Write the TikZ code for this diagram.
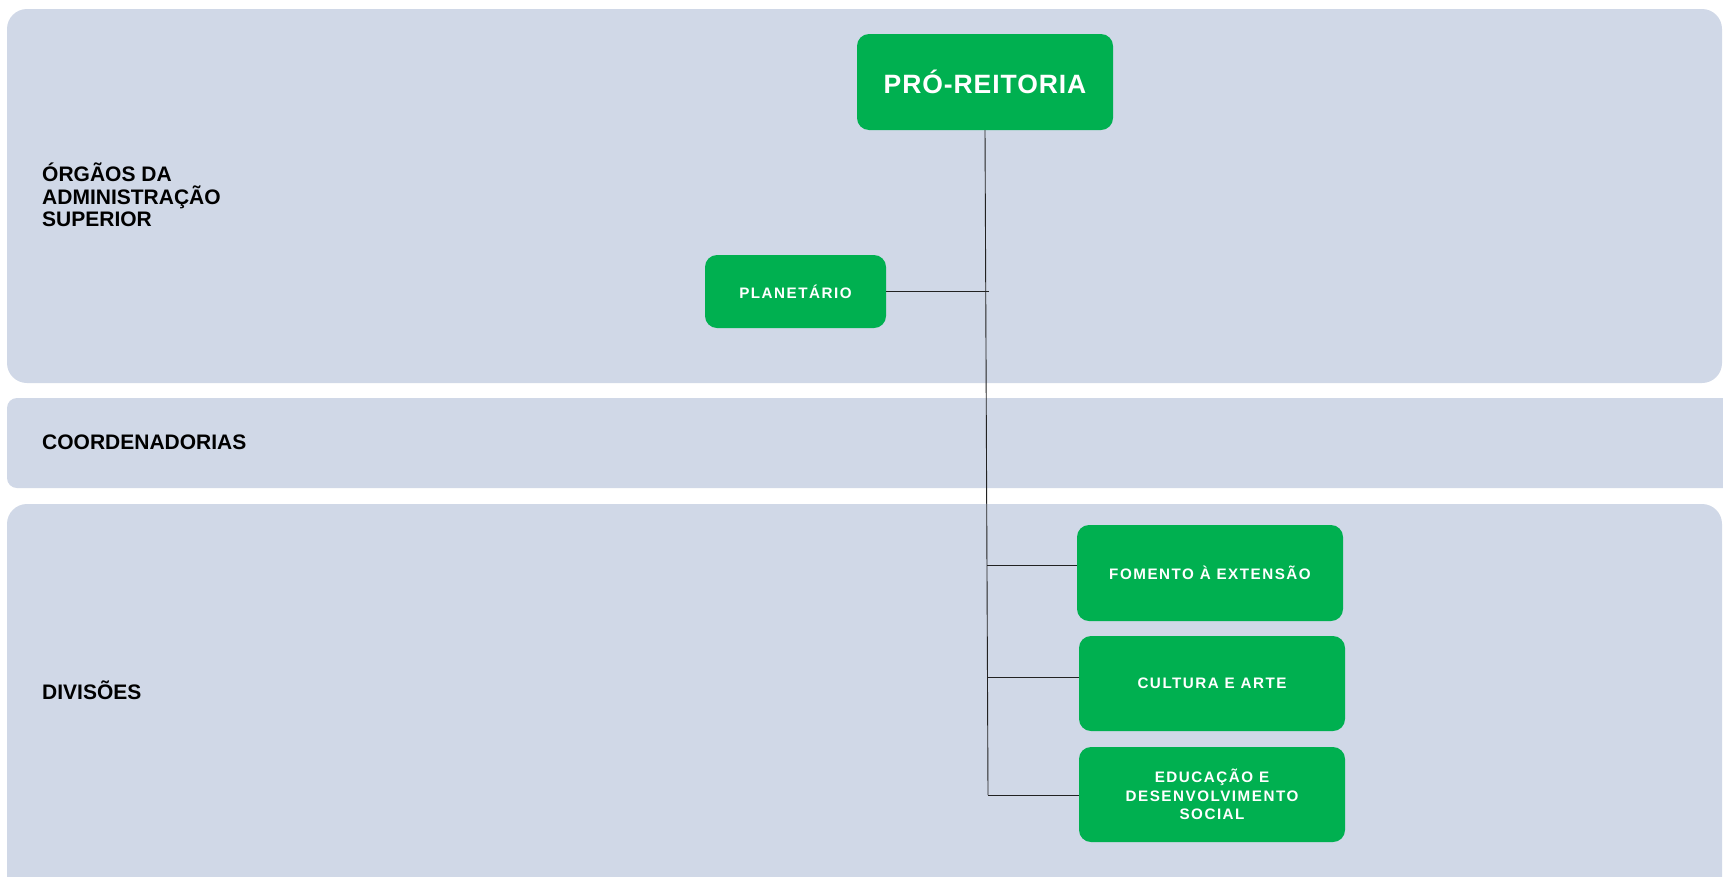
\documentclass[tikz,border=0pt]{standalone}
\usepackage{fontspec}
\setmainfont{Liberation Sans}
\definecolor{bandfill}{HTML}{D0D8E7}
\definecolor{boxgreen}{HTML}{00B050}
\definecolor{linecol}{HTML}{222222}
\begin{document}
\begin{tikzpicture}[x=1pt,y=-1pt,
  band/.style={fill=bandfill,draw=none},
  lanelabel/.style={anchor=west,align=left,inner sep=0pt,font=\bfseries\fontsize{21}{22.5}\selectfont,text=black},
  greenbox/.style={fill=boxgreen,draw=none,rounded corners=12pt,inner sep=0pt,text=white,align=center},
  smalltext/.style={font=\bfseries\fontsize{15.2}{18.5}\selectfont\addfontfeature{LetterSpace=10}},
  conn/.style={draw=linecol,line width=0.9pt}
]
\useasboundingbox (0,0) rectangle (1723,876);
\clip (0,0) rectangle (1723,876);
\fill[white] (0,0) rectangle (1723,876);
% bands
\path[band,rounded corners=20pt] (7,9) rectangle (1722,383);
\path[band,rounded corners=10pt] (7,398) rectangle (1740,488);
\path[band,rounded corners=20pt] (7,504) rectangle (1722,900);
% lane labels
\node[lanelabel] (l1) at (42,195) {ÓRGÃOS DA\\ADMINISTRAÇÃO\\SUPERIOR};
\node[lanelabel] (l2) at (42,442) {COORDENADORIAS};
\node[lanelabel] (l3) at (42,690) {DIVISÕES};
% boxes
\node[greenbox,minimum width=256pt,minimum height=96pt,font=\bfseries\fontsize{26.5}{30}\selectfont\addfontfeature{LetterSpace=3.5}] (pro) at (985,82) {PRÓ-REITORIA};
\node[greenbox,smalltext,minimum width=181pt,minimum height=73pt] (plan) at (795.5,291.5) {PLANETÁRIO};
\node[greenbox,smalltext,minimum width=266pt,minimum height=96pt] (fom) at (1210,573) {FOMENTO À EXTENSÃO};
\node[greenbox,smalltext,minimum width=266pt,minimum height=95pt] (cul) at (1212,683.5) {CULTURA E ARTE};
\node[greenbox,smalltext,minimum width=266pt,minimum height=95pt] (edu) at (1212,794.5) {EDUCAÇÃO E\\DESENVOLVIMENTO\\SOCIAL};
% connectors
\coordinate (vbot) at (988,795);
\coordinate (pj) at (989,291.5);
\coordinate (fj) at (987,565);
\coordinate (cj) at (988,677);
\coordinate (ej) at (988,795);
\draw[conn] (pro.south) -- (vbot);
\draw[conn] (plan.east) -- (pj);
\draw[conn] (fj) -- (fj -| fom.west);
\draw[conn] (cj) -- (cj -| cul.west);
\draw[conn] (ej) -- (ej -| edu.west);
\end{tikzpicture}
\end{document}
